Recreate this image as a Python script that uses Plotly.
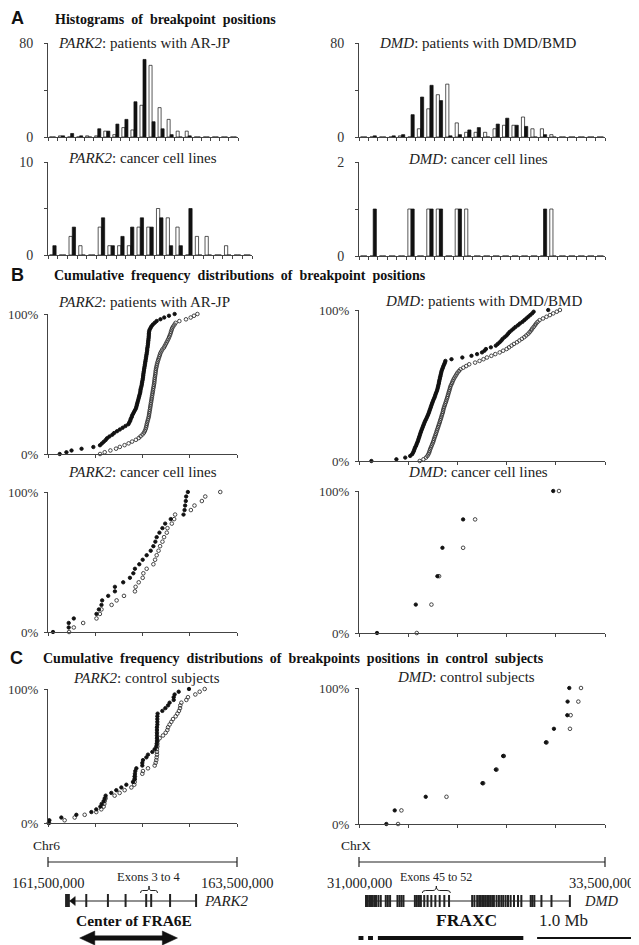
import plotly.graph_objects as go

W, H = 639, 945
OFF = 8  # page offset of the plot div inside the browser window

# ---------------- histogram data: breakpoint counts per 100-kb bin ----------------
park2_bins = list(range(21))   # bins from 161.5 Mb
dmd_bins = list(range(26))     # bins from 31.0 Mb

park2_pat_black = [0, 1, 3, 1, 0, 7, 5, 11, 15, 30, 66, 13, 7, 2, 0, 1, 0, 0, 0, 0, 0]
park2_pat_white = [0, 1, 0, 0, 1, 1, 5, 2, 8, 6, 27, 61, 25, 15, 5, 5, 0, 0, 0, 0, 0]
dmd_pat_black = [0, 1, 0, 1, 2, 19, 34, 44, 31, 1, 2, 6, 8, 0, 11, 16, 10, 9, 0, 2, 0, 0, 0, 0, 0, 0]
dmd_pat_white = [0, 0, 0, 0, 1, 0, 7, 24, 36, 45, 12, 4, 4, 4, 7, 10, 10, 17, 7, 7, 2, 0, 0, 0, 0, 0]
park2_cl_black = [1, 0, 3, 0, 0, 4, 1, 2, 3, 4, 3, 4, 1, 1, 5, 0, 0, 0, 0, 0, 0]
park2_cl_white = [0, 0, 2, 1, 0, 3, 1, 1, 1, 3, 3, 5, 4, 3, 0, 2, 2, 0, 1, 0, 0]
dmd_cl_black = [0, 1, 0, 0, 0, 1, 0, 1, 1, 0, 1, 0, 0, 0, 0, 0, 0, 0, 0, 1, 0, 0, 0, 0, 0, 0]
dmd_cl_white = [0, 0, 0, 0, 0, 1, 0, 1, 1, 0, 1, 1, 0, 0, 0, 0, 0, 0, 0, 0, 1, 0, 0, 0, 0, 0]

# ---------------- breakpoint positions (Mb) for cumulative plots ----------------
park2_pat_black_pos = [161.624, 161.695, 161.749, 161.855, 161.98, 162.05, 162.07, 162.09, 162.11, 162.125,
    162.15, 162.18, 162.20, 162.23, 162.26, 162.29, 162.32, 162.35, 162.36, 162.37, 162.375, 162.385,
    162.39, 162.40, 162.41, 162.42, 162.43, 162.435, 162.44, 162.445, 162.45, 162.455, 162.46, 162.465,
    162.47, 162.475, 162.478, 162.48, 162.485, 162.49, 162.493, 162.496, 162.50, 162.503, 162.506,
    162.508, 162.51, 162.513, 162.516, 162.519, 162.522, 162.525, 162.528, 162.531, 162.534, 162.537,
    162.54, 162.543, 162.546, 162.549, 162.55, 162.553, 162.556, 162.558, 162.56, 162.562, 162.564,
    162.566, 162.567, 162.568, 162.57, 162.575, 162.585, 162.595, 162.61, 162.63, 162.65, 162.69,
    162.73, 162.78, 162.84]
park2_pat_white_pos = [162.051, 162.10, 162.16, 162.22, 162.26, 162.31, 162.353, 162.39, 162.43, 162.46,
    162.48, 162.50, 162.515, 162.525, 162.533, 162.538, 162.542, 162.546, 162.551, 162.556, 162.561,
    162.566, 162.569, 162.572, 162.575, 162.578, 162.581, 162.584, 162.587, 162.59, 162.593, 162.596,
    162.599, 162.602, 162.605, 162.608, 162.611, 162.614, 162.618, 162.621, 162.624, 162.626, 162.628,
    162.63, 162.633, 162.636, 162.638, 162.64, 162.643, 162.647, 162.651, 162.655, 162.66, 162.666,
    162.672, 162.678, 162.684, 162.69, 162.70, 162.71, 162.726, 162.736, 162.746, 162.756, 162.765,
    162.774, 162.782, 162.79, 162.797, 162.802, 162.808, 162.814, 162.825, 162.838, 162.85, 162.89,
    162.96, 163.01, 163.045, 163.081]
dmd_pat_black_pos = [31.126, 31.38, 31.47, 31.52, 31.54, 31.55, 31.558, 31.564, 31.57, 31.58, 31.586,
    31.593, 31.60, 31.605, 31.611, 31.617, 31.622, 31.628, 31.634, 31.641, 31.648, 31.654, 31.661,
    31.668, 31.676, 31.684, 31.692, 31.70, 31.707, 31.713, 31.719, 31.725, 31.731, 31.737, 31.743,
    31.75, 31.756, 31.764, 31.771, 31.776, 31.782, 31.79, 31.795, 31.80, 31.804, 31.808, 31.812,
    31.815, 31.819, 31.823, 31.827, 31.831, 31.835, 31.839, 31.845, 31.852, 31.858, 31.866, 31.873,
    31.878, 31.94, 32.05, 32.143, 32.20, 32.25, 32.275, 32.29, 32.34, 32.39, 32.41, 32.43, 32.447,
    32.46, 32.48, 32.50, 32.515, 32.53, 32.55, 32.57, 32.59, 32.615, 32.635, 32.66, 32.68, 32.70,
    32.72, 32.74, 32.76, 32.775, 32.923]
dmd_pat_white_pos = [31.617, 31.655, 31.68, 31.695, 31.705, 31.713, 31.718, 31.724, 31.731, 31.738,
    31.745, 31.752, 31.758, 31.763, 31.769, 31.775, 31.781, 31.787, 31.792, 31.798, 31.804, 31.81,
    31.815, 31.821, 31.826, 31.832, 31.837, 31.842, 31.848, 31.853, 31.856, 31.861, 31.866, 31.872,
    31.878, 31.884, 31.889, 31.895, 31.90, 31.905, 31.91, 31.915, 31.92, 31.925, 31.93, 31.937,
    31.946, 31.952, 31.96, 31.969, 31.98, 31.99, 32.00, 32.015, 32.03, 32.06, 32.09, 32.12, 32.18,
    32.225, 32.265, 32.30, 32.345, 32.385, 32.43, 32.465, 32.50, 32.525, 32.55, 32.575, 32.605,
    32.63, 32.655, 32.68, 32.70, 32.72, 32.735, 32.75, 32.76, 32.775, 32.788, 32.80, 32.815, 32.835,
    32.87, 32.905, 32.94, 32.974, 33.01, 33.042]
park2_cl_black_pos = [161.553, 161.719, 161.719, 161.773, 162.013, 162.038, 162.066, 162.073, 162.137,
    162.208, 162.208, 162.296, 162.367, 162.403, 162.420, 162.466, 162.502, 162.544, 162.587,
    162.615, 162.636, 162.650, 162.679, 162.711, 162.740, 162.799, 162.934, 162.945, 162.951,
    162.958, 162.962, 162.980]
park2_cl_white_pos = [161.723, 161.773, 161.872, 162.013, 162.049, 162.066, 162.173, 162.226, 162.304,
    162.420, 162.427, 162.460, 162.502, 162.509, 162.544, 162.615, 162.633, 162.650, 162.670,
    162.686, 162.711, 162.728, 162.757, 162.764, 162.810, 162.835, 162.845, 163.012, 163.050,
    163.128, 163.164, 163.323]
dmd_cl_black_pos = [31.183, 31.577, 31.797, 31.848, 32.058, 32.974]
dmd_cl_white_pos = [31.587, 31.736, 31.814, 32.058, 32.180, 33.032]
park2_ctrl_black_pos = [161.507, 161.514, 161.641, 161.800, 161.959, 162.011, 162.054, 162.068, 162.089,
    162.100, 162.110, 162.170, 162.223, 162.276, 162.329, 162.399, 162.417, 162.417, 162.420,
    162.424, 162.435, 162.498, 162.498, 162.505, 162.541, 162.558, 162.604, 162.629, 162.646,
    162.650, 162.653, 162.653, 162.653, 162.653, 162.653, 162.653, 162.657, 162.657, 162.657,
    162.657, 162.660, 162.710, 162.742, 162.770, 162.787, 162.830, 162.830, 162.840, 162.883, 162.992]
park2_ctrl_white_pos = [161.511, 161.676, 161.782, 161.888, 162.011, 162.064, 162.089, 162.096, 162.100,
    162.110, 162.205, 162.258, 162.311, 162.382, 162.413, 162.417, 162.417, 162.420, 162.498,
    162.505, 162.558, 162.629, 162.639, 162.646, 162.650, 162.653, 162.653, 162.653, 162.657,
    162.657, 162.660, 162.682, 162.717, 162.745, 162.763, 162.770, 162.787, 162.805, 162.823,
    162.851, 162.869, 162.886, 162.897, 162.900, 162.911, 162.964, 162.981, 163.059, 163.105, 163.158]
dmd_ctrl_black_pos = [31.278, 31.363, 31.678, 32.255, 32.391, 32.465, 32.900, 32.981, 33.117, 33.120, 33.137]
dmd_ctrl_white_pos = [31.397, 31.431, 31.889, 32.262, 32.398, 32.472, 32.906, 33.144, 33.151, 33.229, 33.256]

# ---------------- gene maps ----------------
park2_region = [161.5, 163.5]
dmd_region = [31.0, 33.5]
park2_gene = [161.694, 163.067]
park2_exons = [161.694, 161.706, 161.718, 161.905, 162.134, 162.321, 162.539, 162.592, 162.792, 163.067]
park2_brace = [162.479, 162.659]
fra6e = [161.835, 162.870]
dmd_gene = [31.071, 33.143]
dmd_exons = [31.071, 31.088, 31.105, 31.122, 31.139, 31.156, 31.173, 31.197, 31.221, 31.272, 31.293,
    31.316, 31.391, 31.412, 31.432, 31.452, 31.568, 31.588, 31.609, 31.629, 31.663, 31.697, 31.735,
    31.776, 31.820, 31.867, 31.915, 32.150, 32.173, 32.201, 32.221, 32.235, 32.252, 32.269, 32.286,
    32.303, 32.320, 32.337, 32.354, 32.371, 32.398, 32.422, 32.446, 32.466, 32.490, 32.514, 32.541,
    32.575, 32.616, 32.650, 32.745, 32.762, 32.782, 32.854, 32.956, 33.143]
dmd_brace = [31.643, 31.929]
fraxc_segments = [[30.995, 31.045], [31.092, 31.142], [31.192, 32.670]]
scale_bar_mb = 1.0

SERIF = "Liberation Serif"
SANS = "Liberation Sans"
AX = "#444444"

# panel pixel boxes in the target picture: (x0, x1, ytop, ybottom)
boxes = {
    1: (48, 238, 43, 137), 2: (359, 605, 43, 137),
    3: (48, 252, 162, 255), 4: (359, 605, 162, 256),
    5: (48, 237, 314, 454), 6: (359, 605, 310, 461),
    7: (48, 237, 492, 632), 8: (359, 605, 491, 633),
    9: (48, 237, 689, 823), 10: (359, 605, 688, 824),
}


def PX(p):
    return (p - OFF) / W


def PY(p):
    return 1 - (p - OFF) / H


fig = go.Figure()


def ax_id(i, letter):
    return letter if i == 1 else f"{letter}{i}"


def add_hist(i, bins, white, black):
    for vals, fill in ((white, "white"), (black, "#111111")):
        fig.add_trace(go.Bar(x=bins, y=vals, marker=dict(color=fill, line=dict(color="#111111", width=0.7)),
                             xaxis=ax_id(i, "x"), yaxis=ax_id(i, "y"), showlegend=False))


def add_cum(i, white_pos, black_pos):
    for pos, sym, col, sz in ((white_pos, "circle-open", "#333333", 3.6), (black_pos, "circle", "#111111", 3.4)):
        n = len(pos)
        ys = [100.0 * k / (n - 1) for k in range(n)]
        fig.add_trace(go.Scatter(x=pos, y=ys, mode="markers",
                                 marker=dict(symbol=sym, size=sz, color=col, line=dict(width=0.9, color=col)),
                                 cliponaxis=False, xaxis=ax_id(i, "x"), yaxis=ax_id(i, "y"), showlegend=False))


add_hist(1, park2_bins, park2_pat_white, park2_pat_black)
add_hist(2, dmd_bins, dmd_pat_white, dmd_pat_black)
add_hist(3, park2_bins, park2_cl_white, park2_cl_black)
add_hist(4, dmd_bins, dmd_cl_white, dmd_cl_black)
add_cum(5, park2_pat_white_pos, park2_pat_black_pos)
add_cum(6, dmd_pat_white_pos, dmd_pat_black_pos)
add_cum(7, park2_cl_white_pos, park2_cl_black_pos)
add_cum(8, dmd_cl_white_pos, dmd_cl_black_pos)
add_cum(9, park2_ctrl_white_pos, park2_ctrl_black_pos)
add_cum(10, dmd_ctrl_white_pos, dmd_ctrl_black_pos)

layout = dict(width=W, height=H, margin=dict(l=0, r=0, t=0, b=0, pad=0, autoexpand=False),
              paper_bgcolor="white", plot_bgcolor="white", barmode="group", bargap=0.33, bargroupgap=0,
              font=dict(family=SERIF, size=13, color="#222222"), showlegend=False)

yspecs = {
    1: ([0, 80], [0, 40, 80], ["0", "", "80"]),
    2: ([0, 80], [0, 40, 80], ["0", "", "80"]),
    3: ([0, 10], [0, 5, 10], ["0", "", "10"]),
    4: ([0, 2], [0, 1, 2], ["0", "", "2"]),
}
for i in range(5, 11):
    yspecs[i] = ([0, 100], [0, 100], ["0%", "100%"])

for i, (x0, x1, yt, yb) in boxes.items():
    if i in (1, 3):
        xr = [-0.5, len(park2_bins) - 0.5]
        tv = [k - 0.5 for k in range(len(park2_bins) + 1)]
    elif i in (2, 4):
        xr = [-0.5, len(dmd_bins) - 0.5]
        tv = [k - 0.5 for k in range(len(dmd_bins) + 1)]
    elif i % 2 == 1:
        xr = park2_region
        tv = [161.5, 162.0, 162.5, 163.0, 163.5]
    else:
        xr = dmd_region
        tv = [31.0, 31.5, 32.0, 32.5, 33.0, 33.5]
    yr, ytv, ytt = yspecs[i]
    cum = i >= 5
    xname = "xaxis" if i == 1 else f"xaxis{i}"
    yname = "yaxis" if i == 1 else f"yaxis{i}"
    layout[xname] = dict(domain=[PX(x0), PX(x1)], range=xr, anchor=ax_id(i, "y"), showline=True,
                         linecolor=AX, linewidth=1, ticks="outside", ticklen=3, tickcolor=AX,
                         tickmode="array", tickvals=tv, showticklabels=False, showgrid=False,
                         zeroline=False, fixedrange=True, automargin=False)
    layout[yname] = dict(domain=[PY(yb), PY(yt)], range=yr, anchor=ax_id(i, "x"), showline=True,
                         linecolor=AX, linewidth=1, ticks="outside", ticklen=3, tickcolor=AX,
                         tickmode="array", tickvals=ytv, ticktext=ytt, showgrid=False, zeroline=False,
                         tickfont=dict(family=SERIF, size=13 if cum else 14, color="#333333"),
                         ticklabelstandoff=3 if cum else 8, fixedrange=True, automargin=False)


def wide_range(box, rng, d0, d1):
    s = (rng[1] - rng[0]) / (box[1] - box[0])
    return [rng[0] + (d0 - box[0]) * s, rng[0] + (d1 - box[0]) * s]


# invisible axes for the gene maps: same genomic scale; y in target-picture pixel rows
layout["xaxis11"] = dict(domain=[0, 320 / W], range=wide_range(boxes[9], park2_region, OFF, 320 + OFF),
                         anchor="y11", visible=False, fixedrange=True, automargin=False)
layout["yaxis11"] = dict(domain=[0, 120 / H], range=[H + OFF, H - 120 + OFF], anchor="x11", visible=False,
                         fixedrange=True, automargin=False)
layout["xaxis12"] = dict(domain=[320 / W, 1], range=wide_range(boxes[10], dmd_region, 320 + OFF, W + OFF),
                         anchor="y12", visible=False, fixedrange=True, automargin=False)
layout["yaxis12"] = dict(domain=[0, 120 / H], range=[H + OFF, H - 120 + OFF], anchor="x12", visible=False,
                         fixedrange=True, automargin=False)
fig.add_trace(go.Scatter(x=[], y=[], xaxis="x11", yaxis="y11", showlegend=False))
fig.add_trace(go.Scatter(x=[], y=[], xaxis="x12", yaxis="y12", showlegend=False))

fig.update_layout(**layout)

ann = []


def txt(x, y, text, size=13, family=SERIF, xanchor="center", xref="paper", yref="paper", color="#222222"):
    if xref == "paper":
        x = PX(x)
    if yref == "paper":
        y = PY(y)
    ann.append(dict(x=x, y=y, xref=xref, yref=yref, text=text, showarrow=False, xanchor=xanchor,
                    yanchor="middle", borderpad=0, font=dict(family=family, size=size, color=color)))


# section letters and headings
txt(10, 18, "<b>A</b>", size=18, family=SANS, xanchor="left", color="#111")
txt(54, 19, "<b>Histograms  of  breakpoint  positions</b>", size=14, xanchor="left", color="#111")
txt(10, 275, "<b>B</b>", size=18, family=SANS, xanchor="left", color="#111")
txt(53, 275, "<b>Cumulative  frequency  distributions  of  breakpoint  positions</b>", size=14,
    xanchor="left", color="#111")
txt(9, 658, "<b>C</b>", size=18, family=SANS, xanchor="left", color="#111")
txt(42, 658, "<b>Cumulative  frequency  distributions  of  breakpoints  positions  in  control  subjects</b>",
    size=14, xanchor="left", color="#111")

# panel titles
titles = {
    1: (144, 43, "<i>PARK2</i>: patients with AR-JP"),
    2: (477, 43, "<i>DMD</i>: patients with DMD/BMD"),
    3: (142, 158, "<i>PARK2</i>: cancer cell lines"),
    4: (478, 159, "<i>DMD</i>: cancer cell lines"),
    5: (144, 302, "<i>PARK2</i>: patients with AR-JP"),
    6: (483, 301, "<i>DMD</i>: patients with DMD/BMD"),
    7: (142, 472, "<i>PARK2</i>: cancer cell lines"),
    8: (478, 472, "<i>DMD</i>: cancer cell lines"),
    9: (146, 678, "<i>PARK2</i>: control subjects"),
    10: (466, 677, "<i>DMD</i>: control subjects"),
}
for i, (cx, cy, t) in titles.items():
    txt(cx, cy, t, size=15)

shapes = []


def line(xref, yref, x0, y0, x1, y1, width=1, color="#222222"):
    shapes.append(dict(type="line", xref=xref, yref=yref, x0=x0, y0=y0, x1=x1, y1=y1,
                       line=dict(color=color, width=width)))


def path(xref, yref, d, fill=None, width=1, color="#222222"):
    s = dict(type="path", xref=xref, yref=yref, path=d, line=dict(color=color, width=width))
    if fill:
        s["fillcolor"] = fill
    shapes.append(s)


def brace(xref, yref, a, b, ybase, ytop):
    m = (a + b) / 2
    d = (b - a) * 0.12
    ym = (ybase + ytop) / 2 + 1
    p = (f"M {a},{ybase} Q {a},{ym} {a + d},{ym} L {m - d},{ym} Q {m},{ym} {m},{ytop} "
         f"Q {m},{ym} {m + d},{ym} L {b - d},{ym} Q {b},{ym} {b},{ybase}")
    path(xref, yref, p, width=1)


# ---- left map (PARK2) ----
xr_, yr_ = "x11", "y11"
txt(46, 845, "Chr6", size=13.5)
line(xr_, yr_, park2_region[0], 862, park2_region[1], 862, width=1.2)
for v in park2_region:
    line(xr_, yr_, v, 857, v, 867, width=1.2)
txt(park2_region[0], 883, "161,500,000", size=14.5, xref=xr_, yref=yr_)
txt(park2_region[1], 883, "163,500,000", size=14.5, xref=xr_, yref=yr_)
txt(sum(park2_brace) / 2, 877, "Exons 3 to 4", size=12.5, xref=xr_, yref=yr_)
brace(xr_, yr_, park2_brace[0], park2_brace[1], 893, 886)
line(xr_, yr_, park2_gene[0], 901, park2_gene[1], 901, width=1.2)
for k, e in enumerate(park2_exons):
    line(xr_, yr_, e, 894, e, 907, width=2.5 if k < 3 else 2)
tip = park2_exons[2] + 0.01
path(xr_, yr_, f"M {tip},901 L {tip + 0.06},896.5 L {tip + 0.06},905.5 Z", fill="#111", width=0.5)
txt(203, 901, "<i>PARK2</i>", size=15, xanchor="left")
txt(134, 920, "<b>Center of FRA6E</b>", size=15.5, color="#111")
hl = 0.16
line(xr_, yr_, fra6e[0] + hl * 0.8, 938, fra6e[1] - hl * 0.8, 938, width=5, color="#111")
path(xr_, yr_, f"M {fra6e[0]},938 L {fra6e[0] + hl},931 L {fra6e[0] + hl},945 Z", fill="#111", width=0.5,
     color="#111")
path(xr_, yr_, f"M {fra6e[1]},938 L {fra6e[1] - hl},931 L {fra6e[1] - hl},945 Z", fill="#111", width=0.5,
     color="#111")

# ---- right map (DMD) ----
xr_, yr_ = "x12", "y12"
txt(356, 845, "ChrX", size=13.5)
line(xr_, yr_, dmd_region[0], 862, dmd_region[1], 862, width=1.2)
for v in dmd_region:
    line(xr_, yr_, v, 857, v, 867, width=1.2)
txt(dmd_region[0], 883, "31,000,000", size=14.5, xref=xr_, yref=yr_)
txt(635, 883, "33,500,000", size=14.5, xanchor="right")
txt(sum(dmd_brace) / 2, 877, "Exons 45 to 52", size=12, xref=xr_, yref=yr_)
brace(xr_, yr_, dmd_brace[0], dmd_brace[1], 893, 886)
line(xr_, yr_, dmd_gene[0], 901, dmd_gene[1], 901, width=1.2)
for e in dmd_exons:
    line(xr_, yr_, e, 895, e, 907, width=2)
txt(583, 901, "<i>DMD</i>", size=14.5, xanchor="left")
txt(466, 920, "<b>FRAXC</b>", size=17.5, color="#111")
txt(563, 920, "1.0 Mb", size=17)
for a, b in fraxc_segments:
    line(xr_, yr_, a, 938, b, 938, width=4, color="#111")
sb0 = 32.81
line(xr_, yr_, sb0, 938, sb0 + scale_bar_mb, 938, width=2, color="#111")

fig.update_layout(annotations=ann, shapes=shapes)
fig.write_html("out.html")
